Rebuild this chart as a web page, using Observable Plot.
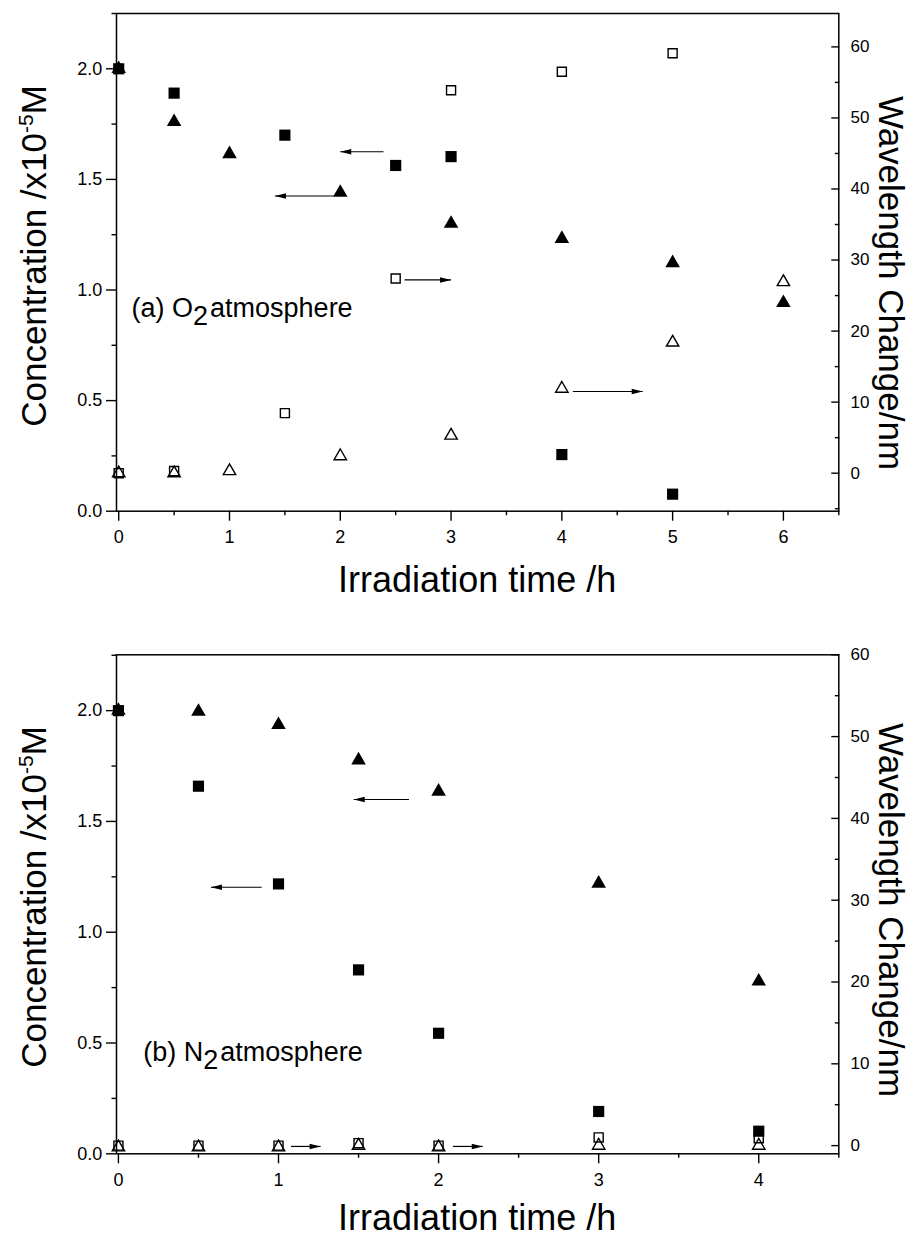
<!DOCTYPE html>
<html>
<head>
<meta charset="utf-8">
<script src="https://cdn.jsdelivr.net/npm/d3@7"></script>
<script src="https://cdn.jsdelivr.net/npm/@observablehq/plot@0.6"></script>
<style>
  html, body { margin: 0; padding: 0; background: #fff; }
  #chart svg { display: block; }
</style>
</head>
<body>
<div id="chart"></div>
<script>
const FONT = '"Liberation Sans", Arial, Helvetica, sans-serif';

// ---------- Shared axis tick labels ----------
const concTicks = [0.0, 0.5, 1.0, 1.5, 2.0];
const concMinor = [0.25, 0.75, 1.25, 1.75, 2.25];
const waveTicks = [0, 10, 20, 30, 40, 50, 60];

// ---------- Panel (a): O2 atmosphere ----------
const a_xTicks = [0, 1, 2, 3, 4, 5, 6];
const a_xMinor = [0.5, 1.5, 2.5, 3.5, 4.5, 5.5, 6.5];
const a_waveMinor = [-5, 5, 15, 25, 35, 45, 55];
// filled squares: concentration (left axis)
const a_sqFilled_t = [0, 0.5, 1.5, 2.5, 3, 4, 5];
const a_sqFilled_c = [2.0, 1.89, 1.70, 1.563, 1.603, 0.256, 0.077];
// filled triangles: concentration (left axis)
const a_triFilled_t = [0, 0.5, 1, 2, 3, 4, 5, 6];
const a_triFilled_c = [2.0, 1.76, 1.615, 1.44, 1.30, 1.232, 1.122, 0.942];
// open squares: wavelength change (right axis)
const a_sqOpen_t = [0, 0.5, 1.5, 2.5, 3, 4, 5];
const a_sqOpen_w = [0, 0.3, 8.45, 27.4, 53.9, 56.5, 59.1];
// open triangles: wavelength change (right axis)
const a_triOpen_t = [0, 0.5, 1, 2, 3, 4, 5, 6];
const a_triOpen_w = [0, 0, 0.3, 2.4, 5.3, 11.9, 18.4, 26.9];
// arrows pointing to the axis each series belongs to
const a_arrow_x1 = [2.39, 1.94, 2.58, 4.10];
const a_arrow_x2 = [2.00, 1.41, 3.00, 4.73];
const a_arrow_y = [1.625, 1.425, 27.2, 11.5];
const a_arrow_axis = ["left", "left", "right", "right"];
const a_note = {x: 0.12, y: 0.877, label: "(a) O", sub: "2", rest: "atmosphere"};

// ---------- Panel (b): N2 atmosphere ----------
const b_xTicks = [0, 1, 2, 3, 4];
const b_xMinor = [0.5, 1.5, 2.5, 3.5, 4.5];
const b_waveMinor = [5, 15, 25, 35, 45, 55];
const b_sqFilled_t = [0, 0.5, 1, 1.5, 2, 3, 4];
const b_sqFilled_c = [2.0, 1.659, 1.218, 0.830, 0.544, 0.191, 0.102];
const b_triFilled_t = [0, 0.5, 1, 1.5, 2, 3, 4];
const b_triFilled_c = [2.0, 1.996, 1.936, 1.776, 1.635, 1.220, 0.778];
const b_sqOpen_t = [0, 0.5, 1, 1.5, 2, 3, 4];
const b_sqOpen_w = [0, 0, 0, 0.3, 0, 1.0, 0.9];
const b_triOpen_t = [0, 0.5, 1, 1.5, 2, 3, 4];
const b_triOpen_w = [-0.2, -0.2, -0.2, 0, -0.2, 0, 0];
const b_arrow_x1 = [1.815, 0.895, 1.078, 2.089];
const b_arrow_x2 = [1.470, 0.578, 1.263, 2.276];
const b_arrow_y = [1.599, 1.203, -0.1, -0.1];
const b_arrow_axis = ["left", "left", "right", "right"];
const b_note = {x: 0.158, y: 0.4165, label: "(b) N", sub: "2", rest: "atmosphere"};

// Filled arrow heads (tip at the data point)
const headRight = {draw(ctx) { ctx.moveTo(0, 0); ctx.lineTo(-11, -2.7); ctx.lineTo(-11, 2.7); ctx.closePath(); }};
const headLeft = {draw(ctx) { ctx.moveTo(0, 0); ctx.lineTo(11, -2.7); ctx.lineTo(11, 2.7); ctx.closePath(); }};

function buildPanel(cfg) {
  const {height, marginTop, marginBottom, xDomain, yTop, rDomain} = cfg;
  const toL = r => (r - rDomain[0]) / (rDomain[1] - rDomain[0]) * yTop;
  const fromL = l => l / yTop * (rDomain[1] - rDomain[0]) + rDomain[0];
  const pts = (ts, vs, conv = v => v) => ts.map((t, i) => ({t, v: conv(vs[i])}));
  const arrows = cfg.arrow_x1.map((x1, i) => ({
    x1, x2: cfg.arrow_x2[i],
    yl: cfg.arrow_axis[i] === "right" ? toL(cfg.arrow_y[i]) : cfg.arrow_y[i]
  }));
  const sw = 1.4;
  const chart = Plot.plot({
    width: 913, height, marginLeft: 116, marginRight: 74.7, marginTop, marginBottom,
    style: {fontFamily: FONT, fontSize: "18px", color: "#000", background: "#fff", overflow: "visible"},
    x: {domain: xDomain, axis: null, label: null},
    y: {domain: [0, yTop], axis: null, label: null},
    marks: [
      Plot.axisX({ticks: cfg.xTicks, tickSize: 10, tickPadding: 9.5, tickFormat: d3.format("d"), label: null, fontSize: 18, strokeWidth: sw}),
      Plot.axisX({ticks: cfg.xMinor, tickSize: 4.5, tickFormat: () => "", label: null, strokeWidth: sw}),
      Plot.axisY({ticks: concTicks, tickSize: 10, tickPadding: 4.3, tickFormat: d3.format(".1f"), label: null, fontSize: 18, strokeWidth: sw}),
      Plot.axisY({ticks: concMinor, tickSize: 4.5, tickFormat: () => "", label: null, strokeWidth: sw}),
      Plot.axisY({anchor: "right", ticks: waveTicks.map(toL), tickSize: -8, tickPadding: 19.7,
        tickFormat: d => String(Math.round(fromL(d))), textAnchor: "start", label: null, fontSize: 17, strokeWidth: sw}),
      Plot.axisY({anchor: "right", ticks: cfg.waveMinor.map(toL), tickSize: -4.5, tickFormat: () => "", label: null, strokeWidth: sw}),
      Plot.frame({stroke: "#000", strokeWidth: 1.5}),
      Plot.link(arrows, {x1: "x1", x2: "x2", y1: "yl", y2: "yl", stroke: "#000", strokeWidth: 1.2}),
      Plot.dot(arrows.filter(a => a.x2 > a.x1), {x: "x2", y: "yl", symbol: headRight, r: 5, fill: "#000", stroke: null}),
      Plot.dot(arrows.filter(a => a.x2 < a.x1), {x: "x2", y: "yl", symbol: headLeft, r: 5, fill: "#000", stroke: null}),
      Plot.dot(pts(cfg.sqOpen_t, cfg.sqOpen_w, toL), {x: "t", y: "v", symbol: "square", r: 5.1, fill: "none", stroke: "#000", strokeWidth: 1.4}),
      Plot.dot(pts(cfg.triOpen_t, cfg.triOpen_w, toL), {x: "t", y: "v", symbol: "triangle", r: 4.6, fill: "none", stroke: "#000", strokeWidth: 1.4}),
      Plot.dot(pts(cfg.triFilled_t, cfg.triFilled_c), {x: "t", y: "v", symbol: "triangle", r: 5.4, fill: "#000", stroke: null}),
      Plot.dot(pts(cfg.sqFilled_t, cfg.sqFilled_c), {x: "t", y: "v", symbol: "square", r: 6.3, fill: "#000", stroke: null})
    ]
  });

  const svg = d3.select(chart);
  const xs = chart.scale("x"), ys = chart.scale("y");
  const frameMidX = (116 + (913 - 74.7)) / 2;
  const txt = (x, y, size, rot) => svg.append("text")
    .attr("transform", `translate(${x},${y})` + (rot ? ` rotate(${rot})` : ""))
    .attr("font-family", FONT).attr("font-size", size).attr("fill", "#000");

  // x-axis title
  txt(frameMidX, cfg.xTitleBaseline, 36, 0).attr("text-anchor", "middle").text("Irradiation time /h");
  // left axis title with superscript
  const lt = txt(46, cfg.leftTitleCenter, 35, -90).attr("text-anchor", "middle");
  lt.append("tspan").text("Concentration /x10");
  lt.append("tspan").attr("dy", -13).attr("font-size", 21).text("-5");
  lt.append("tspan").attr("dy", 13).text("M");
  // right axis title
  txt(879, cfg.rightTitleCenter, 35, 90).attr("text-anchor", "middle").text("Wavelength Change/nm");
  // panel annotation with subscript
  const n = cfg.note;
  const nt = txt(xs.apply(n.x), ys.apply(n.y), 27, 0).attr("text-anchor", "start");
  nt.append("tspan").text(n.label);
  nt.append("tspan").attr("dy", 8).text(n.sub);
  nt.append("tspan").attr("dy", -8).attr("dx", 2).text(n.rest);
  return chart;
}

const root = document.getElementById("chart");
root.appendChild(buildPanel({
  height: 615, marginTop: 13, marginBottom: 104.3,
  xDomain: [-0.02, 6.5], yTop: 2.25, rDomain: [-5.35, 64.7],
  xTicks: a_xTicks, xMinor: a_xMinor, waveMinor: a_waveMinor,
  sqFilled_t: a_sqFilled_t, sqFilled_c: a_sqFilled_c,
  triFilled_t: a_triFilled_t, triFilled_c: a_triFilled_c,
  sqOpen_t: a_sqOpen_t, sqOpen_w: a_sqOpen_w,
  triOpen_t: a_triOpen_t, triOpen_w: a_triOpen_w,
  arrow_x1: a_arrow_x1, arrow_x2: a_arrow_x2, arrow_y: a_arrow_y, arrow_axis: a_arrow_axis,
  note: a_note, xTitleBaseline: 592, leftTitleCenter: 256, rightTitleCenter: 283
}));
root.appendChild(buildPanel({
  height: 623, marginTop: 39.3, marginBottom: 84.7,
  xDomain: [-0.012, 4.5], yTop: 2.252, rDomain: [-1, 60],
  xTicks: b_xTicks, xMinor: b_xMinor, waveMinor: b_waveMinor,
  sqFilled_t: b_sqFilled_t, sqFilled_c: b_sqFilled_c,
  triFilled_t: b_triFilled_t, triFilled_c: b_triFilled_c,
  sqOpen_t: b_sqOpen_t, sqOpen_w: b_sqOpen_w,
  triOpen_t: b_triOpen_t, triOpen_w: b_triOpen_w,
  arrow_x1: b_arrow_x1, arrow_x2: b_arrow_x2, arrow_y: b_arrow_y, arrow_axis: b_arrow_axis,
  note: b_note, xTitleBaseline: 615, leftTitleCenter: 282, rightTitleCenter: 295
}));
</script>
</body>
</html>
